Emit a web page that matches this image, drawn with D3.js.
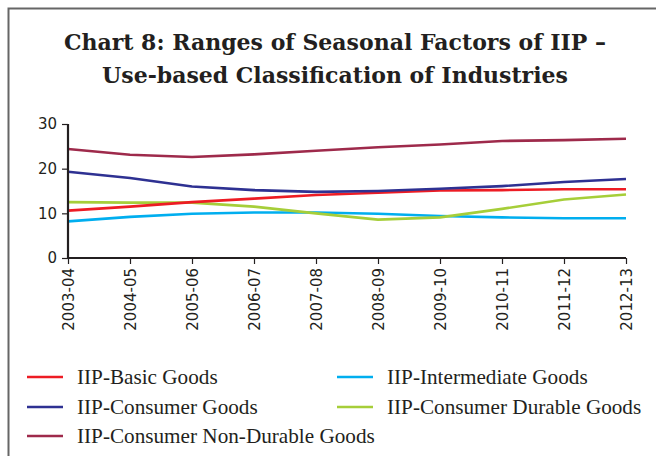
<!DOCTYPE html>
<html><head><meta charset="utf-8">
<script src="https://cdn.jsdelivr.net/npm/d3@7"></script>
<style>body{margin:0;background:#fff}svg{display:block}</style>
</head><body>
<svg id="c" width="656" height="456"></svg>
<script>
const categories = ["2003-04","2004-05","2005-06","2006-07","2007-08","2008-09","2009-10","2010-11","2011-12","2012-13"];
const basicGoods        = [10.6,11.5,12.5,13.3,14.1,14.6,15.1,15.2,15.4,15.4];
const consumerGoods     = [19.3,17.9,16.0,15.2,14.8,15.0,15.5,16.1,17.0,17.7];
const nonDurableGoods   = [24.4,23.1,22.6,23.2,24.0,24.8,25.4,26.2,26.4,26.7];
const intermediateGoods = [8.2,9.2,9.9,10.2,10.2,9.9,9.4,9.1,8.9,8.9];
const durableGoods      = [12.5,12.4,12.4,11.5,10.0,8.6,9.1,11.0,13.1,14.2];
const yTicks = [0,10,20,30];
const titleLines = ["Chart 8: Ranges of Seasonal Factors of IIP –","Use-based Classification of Industries"];
const seriesNames = ["IIP-Basic Goods","IIP-Consumer Goods","IIP-Consumer Non-Durable Goods","IIP-Intermediate Goods","IIP-Consumer Durable Goods"];
const seriesColors = ["#ed1c24","#2e3192","#9e2a4b","#00aeef","#a6ce39"];
const seriesValues = [basicGoods, consumerGoods, nonDurableGoods, intermediateGoods, durableGoods];

const svg = d3.select("#c");
// frame
svg.append("path").attr("d","M8.5,460 V8.5 H660").attr("fill","none").attr("stroke","#666").attr("stroke-width",2);

// title
const title = svg.append("text").attr("text-anchor","middle")
  .attr("font-family","'DejaVu Serif', serif").attr("font-weight","bold")
  .attr("font-size",22).attr("fill","#231f20");
title.append("tspan").attr("x",335).attr("y",50).text(titleLines[0]);
title.append("tspan").attr("x",335).attr("y",83).text(titleLines[1]);

const x = d3.scalePoint().domain(categories).range([68,626]);
const y = d3.scaleLinear().domain([0,30]).range([258,124]);

// lines
const line = d3.line().x((d,i)=>x(categories[i])).y(d=>y(d));
const order = [3,4,0,1,2];
order.forEach(k=>{
  svg.append("path").datum(seriesValues[k]).attr("d",line)
    .attr("fill","none").attr("stroke",seriesColors[k]).attr("stroke-width",2.6)
    .attr("stroke-linejoin","round");
});

// axes
const yAxis = svg.append("g").attr("transform","translate(68,0)")
  .call(d3.axisLeft(y).tickValues(yTicks).tickSize(6).tickPadding(5));
const xAxis = svg.append("g").attr("transform","translate(0,258)")
  .call(d3.axisBottom(x).tickSize(6).tickPadding(4));
[yAxis,xAxis].forEach(a=>{
  a.select(".domain").attr("stroke","#231f20").attr("stroke-width",2.2);
  a.selectAll(".tick line").attr("stroke","#231f20").attr("stroke-width",1.2);
  a.selectAll("text").attr("font-family","'DejaVu Sans', Verdana, sans-serif").attr("font-size",15).attr("fill","#231f20");
});
xAxis.select(".domain").attr("d","M68,0H626");
yAxis.select(".domain").attr("d","M0,124V258");
xAxis.selectAll(".tick text")
  .attr("transform","rotate(-90)").attr("text-anchor","end")
  .attr("x",-10).attr("y",0).attr("dy","0.35em");

// legend
const legPos = [[27,377],[27,407],[27,436],[337,377],[337,407]];
seriesNames.forEach((n,k)=>{
  const g = svg.append("g").attr("transform",`translate(${legPos[k][0]},${legPos[k][1]})`);
  g.append("line").attr("x1",0).attr("x2",36).attr("y1",0).attr("y2",0)
    .attr("stroke",seriesColors[k]).attr("stroke-width",2.6);
  g.append("text").attr("x",50).attr("y",0).attr("dy","0.33em")
    .attr("font-family","'Liberation Serif', serif").attr("font-size",21.2).attr("fill","#231f20").text(n);
});
</script>
</body></html>
